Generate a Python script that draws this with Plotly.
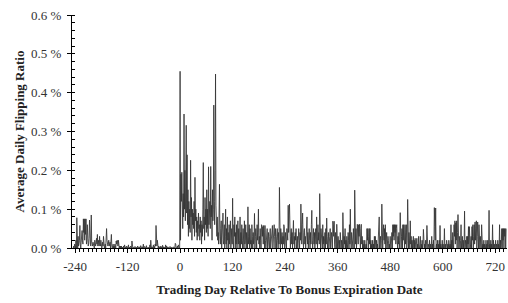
import plotly.graph_objects as go

# Average daily flipping ratio (%) by trading day, before expiration (days -245..-1)
pre_values = [
    0, 0, 0.005, 0, 0.01, 0, 0, 0.02, 0, 0.078,
    0.01, 0, 0.03, 0.005, 0.012, 0.02, 0.058, 0.01, 0, 0.015,
    0.03, 0.045, 0.02, 0.01, 0.075, 0.04, 0.075, 0.02, 0.075, 0.035,
    0.075, 0.01, 0.02, 0.06, 0.015, 0.005, 0.01, 0.025, 0.072, 0.02,
    0.01, 0.005, 0.085, 0.015, 0.01, 0.005, 0.015, 0.005, 0.01, 0,
    0.02, 0.01, 0.005, 0.015, 0.025, 0.01, 0.035, 0.005, 0.01, 0.02,
    0.005, 0.03, 0.01, 0.005, 0.02, 0.01, 0, 0.005, 0.015, 0.005,
    0.03, 0.01, 0, 0.005, 0.01, 0, 0.045, 0.05, 0.02, 0.01,
    0.005, 0.01, 0.02, 0.005, 0.015, 0.015, 0, 0.01, 0.035, 0.005,
    0, 0.005, 0.01, 0, 0.005, 0, 0.01, 0.005, 0, 0.018,
    0.01, 0.02, 0.018, 0.005, 0.02, 0.01, 0, 0.005, 0, 0.005,
    0, 0.005, 0, 0.002, 0, 0, 0.005, 0, 0.008, 0,
    0, 0.002, 0, 0.005, 0, 0, 0, 0.008, 0, 0.002,
    0, 0, 0.005, 0, 0, 0.018, 0, 0, 0.002, 0,
    0, 0, 0.004, 0, 0, 0, 0.002, 0, 0.005, 0,
    0, 0, 0.003, 0, 0, 0.006, 0, 0, 0, 0.003,
    0, 0.01, 0, 0, 0.004, 0, 0, 0, 0.006, 0,
    0, 0, 0.002, 0, 0, 0, 0.008, 0, 0.02, 0.005,
    0, 0.003, 0, 0, 0.008, 0, 0.004, 0, 0.01, 0.005,
    0.058, 0.01, 0.005, 0.02, 0.008, 0, 0.005, 0, 0.003, 0,
    0, 0.005, 0, 0.002, 0, 0.007, 0, 0.003, 0, 0,
    0.002, 0, 0.008, 0, 0.005, 0, 0, 0.003, 0, 0,
    0, 0, 0.004, 0, 0, 0, 0.002, 0, 0, 0,
    0.003, 0, 0, 0, 0.012, 0.01, 0, 0, 0, 0.005,
    0, 0.008, 0, 0, 0,
]

# Days 0..745 after expiration
post_values = [
    0.455, 0.02, 0.19, 0.12, 0.195, 0.13, 0.05, 0.14, 0.08, 0.345,
    0.1, 0.2, 0.07, 0.16, 0.316, 0.09, 0.24, 0.06, 0.15, 0.03,
    0.12, 0.05, 0.1, 0.04, 0.226, 0.08, 0.13, 0.02, 0.1, 0.06,
    0.09, 0.05, 0.12, 0.03, 0.182, 0.07, 0.1, 0.04, 0.08, 0.02,
    0.07, 0.03, 0.09, 0.05, 0.06, 0.02, 0.08, 0.04, 0.07, 0.01,
    0.06, 0.03, 0.1, 0.22, 0.05, 0.08, 0.02, 0.13, 0.06, 0.1,
    0.04, 0.15, 0.05, 0.1, 0.03, 0.209, 0.06, 0.09, 0.12, 0.05,
    0.21, 0.08, 0.11, 0.02, 0.15, 0.07, 0.1, 0.368, 0.12, 0.06,
    0.2, 0.448, 0.11, 0.05, 0.03, 0.08, 0.02, 0.04, 0.01, 0.06,
    0.164, 0.03, 0.01, 0.05, 0.07, 0.0, 0.04, 0.02, 0.09, 0.01,
    0.02, 0.06, 0.0, 0.03, 0.1, 0.01, 0.05, 0.0, 0.08, 0.02,
    0.04, 0.0, 0.06, 0.01, 0.03, 0.07, 0.0, 0.02, 0.05, 0.01,
    0.128, 0.02, 0.0, 0.06, 0.03, 0.08, 0.0, 0.04, 0.01, 0.06,
    0.0, 0.03, 0.07, 0.01, 0.05, 0.0, 0.02, 0.08, 0.0, 0.04,
    0.01, 0.06, 0.02, 0.0, 0.05, 0.03, 0.0, 0.07, 0.01, 0.02,
    0.06, 0.0, 0.04, 0.02, 0.0, 0.106, 0.01, 0.03, 0.06, 0.0,
    0.05, 0.01, 0.02, 0.0, 0.06, 0.03, 0.0, 0.04, 0.01, 0.02,
    0.089, 0.0, 0.03, 0.05, 0.01, 0.0, 0.06, 0.02, 0.04, 0.1,
    0.01, 0.03, 0.0, 0.05, 0.02, 0.0, 0.06, 0.058, 0.03, 0.055,
    0.01, 0.058, 0.04, 0.0, 0.058, 0.02, 0.0, 0.03, 0.01, 0.05,
    0.0, 0.02, 0.04, 0.01, 0.0, 0.03, 0.05, 0.0, 0.02, 0.01,
    0.04, 0.058, 0.0, 0.02, 0.01, 0.06, 0.03, 0.0, 0.05, 0.01,
    0.0, 0.03, 0.05, 0.02, 0.0, 0.04, 0.01, 0.156, 0.03, 0.0,
    0.05, 0.02, 0.01, 0.04, 0.0, 0.03, 0.01, 0.06, 0.055, 0.0,
    0.02, 0.04, 0.01, 0.0, 0.05, 0.03, 0.02, 0.11, 0.04, 0.09,
    0.113, 0.02, 0.0, 0.03, 0.05, 0.01, 0.04, 0.0, 0.02, 0.071,
    0.01, 0.03, 0.0, 0.04, 0.02, 0.05, 0.0, 0.01, 0.03, 0.0,
    0.02, 0.05, 0.01, 0.0, 0.04, 0.02, 0.113, 0.03, 0.01, 0.06,
    0.09, 0.02, 0.0, 0.04, 0.05, 0.01, 0.03, 0.0, 0.06, 0.02,
    0.08, 0.01, 0.04, 0.0, 0.03, 0.05, 0.02, 0.0, 0.04, 0.01,
    0.06, 0.097, 0.02, 0.0, 0.03, 0.05, 0.01, 0.04, 0.0, 0.02,
    0.05, 0.01, 0.08, 0.03, 0.0, 0.06, 0.02, 0.04, 0.01, 0.14,
    0.03, 0.0, 0.05, 0.02, 0.04, 0.0, 0.06, 0.01, 0.03, 0.0,
    0.02, 0.04, 0.0, 0.05, 0.01, 0.077, 0.03, 0.0, 0.02, 0.04,
    0.0, 0.01, 0.03, 0.05, 0.0, 0.02, 0.04, 0.01, 0.0, 0.069,
    0.06, 0.03, 0.069, 0.01, 0.0, 0.04, 0.02, 0.0, 0.061, 0.02,
    0.0, 0.03, 0.01, 0.0, 0.02, 0.0, 0.04, 0.01, 0.0, 0.02,
    0.01, 0.0, 0.091, 0.02, 0.0, 0.03, 0.01, 0.05, 0.0, 0.02,
    0.0, 0.03, 0.01, 0.0, 0.04, 0.02, 0.0, 0.06, 0.01, 0.1,
    0.02, 0.0, 0.04, 0.01, 0.03, 0.0, 0.05, 0.02, 0.0, 0.149,
    0.03, 0.01, 0.05, 0.0, 0.02, 0.061, 0.04, 0.01, 0.06, 0.03,
    0.061, 0.02, 0.0, 0.05, 0.061, 0.01, 0.03, 0.0, 0.02, 0.0,
    0.01, 0.0, 0.02, 0.0, 0.0, 0.01, 0.0, 0.05, 0.02, 0.05,
    0.0, 0.03, 0.05, 0.01, 0.05, 0.0, 0.02, 0.0, 0.01, 0.0,
    0.02, 0.0, 0.01, 0.0, 0.03, 0.0, 0.03, 0.01, 0.0, 0.02,
    0.0, 0.01, 0.0, 0.04, 0.02, 0.08, 0.0, 0.01, 0.03, 0.0,
    0.02, 0.113, 0.01, 0.0, 0.04, 0.06, 0.02, 0.05, 0.01, 0.06,
    0.0, 0.02, 0.04, 0.0, 0.01, 0.03, 0.02, 0.0, 0.01, 0.0,
    0.03, 0.01, 0.0, 0.02, 0.04, 0.0, 0.06, 0.03, 0.06, 0.02,
    0.06, 0.04, 0.06, 0.01, 0.05, 0.06, 0.02, 0.0, 0.03, 0.01,
    0.04, 0.0, 0.02, 0.091, 0.01, 0.0, 0.03, 0.05, 0.0, 0.06,
    0.02, 0.06, 0.03, 0.0, 0.06, 0.01, 0.04, 0.06, 0.0, 0.02,
    0.125, 0.01, 0.0, 0.04, 0.02, 0.0, 0.07, 0.01, 0.03, 0.0,
    0.02, 0.0, 0.01, 0.03, 0.0, 0.02, 0.0, 0.025, 0.01, 0.0,
    0.02, 0.025, 0.0, 0.01, 0.0, 0.03, 0.0, 0.0, 0.01, 0.03,
    0.0, 0.01, 0.0, 0.02, 0.0, 0.01, 0.048, 0.0, 0.0, 0.01,
    0.0, 0.02, 0.0, 0.01, 0.058, 0.0, 0.0, 0.01, 0.0, 0.0,
    0.02, 0.0, 0.01, 0.0, 0.0, 0.03, 0.0, 0.01, 0.0, 0.02,
    0.0, 0.104, 0.055, 0.02, 0.103, 0.0, 0.01, 0.0, 0.02, 0.0,
    0.01, 0.0, 0.02, 0.0, 0.058, 0.0, 0.01, 0.0, 0.0, 0.02,
    0.0, 0.01, 0.0, 0.0, 0.05, 0.0, 0.01, 0.0, 0.0, 0.02,
    0.0, 0.0, 0.01, 0.0, 0.02, 0.0, 0.0, 0.01, 0.0, 0.06,
    0.0, 0.02, 0.0, 0.04, 0.01, 0.0, 0.06, 0.03, 0.07, 0.01,
    0.065, 0.02, 0.07, 0.0, 0.04, 0.086, 0.01, 0.0, 0.03, 0.02,
    0.0, 0.02, 0.06, 0.0, 0.01, 0.03, 0.0, 0.02, 0.0, 0.01,
    0.095, 0.0, 0.02, 0.01, 0.0, 0.03, 0.0, 0.03, 0.01, 0.055,
    0.0, 0.055, 0.02, 0.0, 0.01, 0.03, 0.0, 0.055, 0.02, 0.06,
    0.0, 0.03, 0.06, 0.01, 0.067, 0.02, 0.05, 0.07, 0.0, 0.03,
    0.067, 0.01, 0.0, 0.06, 0.02, 0.0, 0.03, 0.01, 0.0, 0.06,
    0.02, 0.0, 0.01, 0.0, 0.02, 0.0, 0.01, 0.0, 0.0, 0.02,
    0.0, 0.01, 0.0, 0.02, 0.0, 0.01, 0.097, 0.0, 0.01, 0.0,
    0.02, 0.0, 0.01, 0.0, 0.06, 0.0, 0.02, 0.0, 0.01, 0.0,
    0.0, 0.02, 0.0, 0.01, 0.0, 0.0, 0.02, 0.0, 0.01, 0.0,
    0.06, 0.0, 0.02, 0.0, 0.01, 0.05, 0.0, 0.05, 0.02, 0.05,
    0.0, 0.05, 0.03, 0.05, 0.0, 0.05,
]

x_tick_values = [-240, -120, 0, 120, 240, 360, 480, 600, 720]
x_tick_labels = ["-240", "-120", "0", "120", "240", "360", "480", "600", "720"]
y_tick_values = [0.0, 0.1, 0.2, 0.3, 0.4, 0.5, 0.6]
y_tick_labels = ["0.0 %", "0.1 %", "0.2 %", "0.3 %", "0.4 %", "0.5 %", "0.6 %"]

days = list(range(-len(pre_values), 0)) + list(range(0, len(post_values)))
values = pre_values + post_values

FONT = "Liberation Serif, Times New Roman, serif"
TICK_FONT = dict(family=FONT, size=13, color="#333333")
TITLE_FONT = dict(family=FONT, size=13, color="#222222")

fig = go.Figure(
    go.Scatter(
        x=days, y=values, mode="lines",
        line=dict(color="#333333", width=0.85),
        hoverinfo="skip",
    )
)

fig.update_layout(
    width=508, height=303,
    margin=dict(l=72, r=1, t=15, b=55),
    paper_bgcolor="white", plot_bgcolor="white",
    showlegend=False,
    font=dict(family=FONT, size=13, color="#333333"),
)

fig.update_xaxes(
    range=[-247, 747],
    automargin=False,
    tickmode="array", tickvals=x_tick_values, ticktext=x_tick_labels,
    ticks="outside", ticklen=4, tickcolor="black", tickwidth=1,
    ticklabelstandoff=2, ticklabeloverflow="allow",
    minor=dict(dtick=10, tick0=0, ticks="outside", ticklen=3, tickcolor="black", tickwidth=1),
    showline=True, linecolor="black", linewidth=1,
    showgrid=False, zeroline=False,
    tickfont=TICK_FONT,
    title=dict(text="<b>Trading Day Relative To Bonus Expiration Date</b>",
               font=TITLE_FONT, standoff=12),
)

fig.update_yaxes(
    range=[0, 0.6],
    automargin=False,
    tickmode="array", tickvals=y_tick_values, ticktext=y_tick_labels,
    ticks="outside", ticklen=4, tickcolor="black", tickwidth=1,
    ticklabelstandoff=3,
    minor=dict(dtick=0.02, tick0=0, ticks="inside", ticklen=3, tickcolor="black", tickwidth=1),
    showline=True, linecolor="black", linewidth=1,
    showgrid=False, zeroline=False,
    tickfont=TICK_FONT,
    title=dict(text="<b>Average Daily Flipping Ratio</b>",
               font=TITLE_FONT, standoff=3),
)

fig.write_html(
    "out.html",
    config={"displayModeBar": False},
    post_script="document.body.style.margin='0';document.body.style.overflow='hidden';",
)
